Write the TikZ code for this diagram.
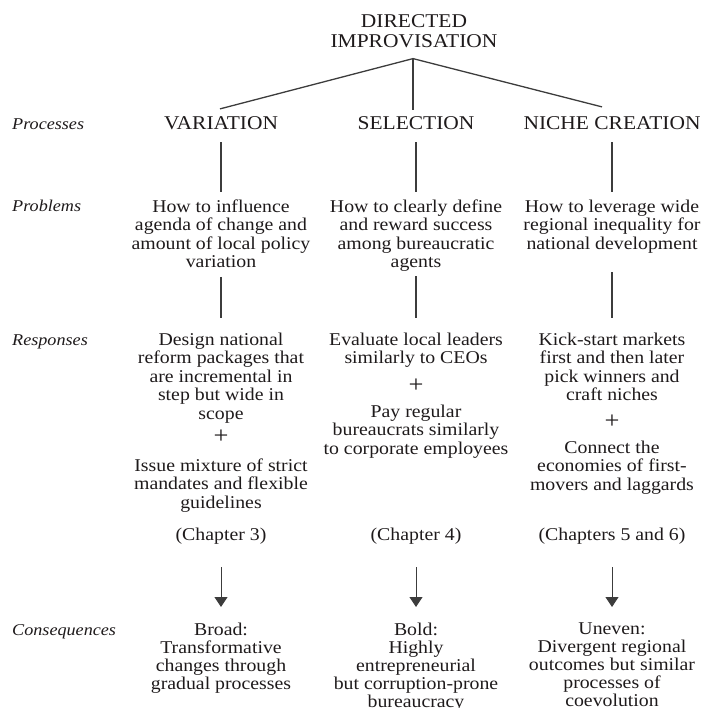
\documentclass[tikz,border=0pt]{standalone}
\usepackage{fontspec}
\setmainfont[FakeStretch=1.1]{Liberation Serif}
\usetikzlibrary{arrows.meta}
\definecolor{ink}{HTML}{1E1A1B}
\definecolor{rulegrey}{HTML}{3C3C3C}
\tikzset{
	body/.style={anchor=north, align=center, inner sep=0pt, text=ink, font=\fontsize{18}{18.5}\selectfont},
	heading/.style={anchor=base, inner sep=0pt, text=ink, font=\fontsize{19.5}{20}\selectfont},
	rowlabel/.style={anchor=base west, inner sep=0pt, text=ink, font=\fontsize{16.5}{18}\selectfont\itshape},
	andsign/.style={inner sep=0pt, text=ink, font=\fontsize{24}{24}\selectfont},
	link/.style={draw=rulegrey, line width=1.3pt},
	down/.style={draw=rulegrey, line width=1pt, -{Triangle[width=13pt,length=10pt]}},
}
\begin{document}
\begin{tikzpicture}[x=1pt, y=-1pt]
	\useasboundingbox (0,0) rectangle (705,708);

	\node[heading, anchor=north, align=center] (title) at (414,14) {DIRECTED\\IMPROVISATION};

	\node[rowlabel] (lproc) at (12,130) {Processes};
	\node[rowlabel] (lprob) at (12,212) {Problems};
	\node[rowlabel] (lresp) at (12,345) {Responses};
	\node[rowlabel] (lcons) at (12,635) {Consequences};

	\node[heading] (varproc) at (221,130) {VARIATION};
	\node[heading] (selproc) at (416,130) {SELECTION};
	\node[heading] (nicheproc) at (612,130) {NICHE CREATION};

	\node[body] (varprob) at (221,199.5) {How to influence\\agenda of change and\\amount of local policy\\variation};
	\node[body] (selprob) at (416,199.5) {How to clearly define\\and reward success\\among bureaucratic\\agents};
	\node[body] (nicheprob) at (612,199.5) {How to leverage wide\\regional inequality for\\national development};

	\node[body] (varresp) at (221,332.5) {Design national\\reform packages that\\are incremental in\\step but wide in\\scope};
	\node[andsign] (varplus) at (221,437) {+};
	\node[body] (varmore) at (221,458.5) {Issue mixture of strict\\mandates and flexible\\guidelines};

	\node[body] (selresp) at (416,332.5) {Evaluate local leaders\\similarly to CEOs};
	\node[andsign] (selplus) at (416,386) {+};
	\node[body] (selmore) at (416,404.5) {Pay regular\\bureaucrats similarly\\to corporate employees};

	\node[body] (nicheresp) at (612,332.5) {Kick-start markets\\first and then later\\pick winners and\\craft niches};
	\node[andsign] (nicheplus) at (612,422) {+};
	\node[body] (nichemore) at (612,440.5) {Connect the\\economies of first-\\movers and laggards};

	\node[body, anchor=base] (varchap) at (221,540) {(Chapter 3)};
	\node[body, anchor=base] (selchap) at (416,540) {(Chapter 4)};
	\node[body, anchor=base] (nichechap) at (612,540) {(Chapters 5 and 6)};

	\node[body, font=\fontsize{18}{18}\selectfont] (varcons) at (221,622.5) {Broad:\\Transformative\\changes through\\gradual processes};
	\node[body, font=\fontsize{18}{18}\selectfont] (selcons) at (416,622.5) {Bold:\\Highly\\entrepreneurial\\but corruption-prone\\bureaucracy};
	\node[body, font=\fontsize{18}{18}\selectfont] (nichecons) at (612,622.5) {Uneven:\\Divergent regional\\outcomes but similar\\processes of\\coevolution};

	\draw[link] ([xshift=-1pt,yshift=-11pt]title.south) -- ([xshift=-1pt,yshift=8pt]varproc.north);
	\draw[link] ([xshift=-1pt,yshift=-11pt]title.south) -- ([xshift=-3pt,yshift=7pt]selproc.north);
	\draw[link] ([xshift=-1pt,yshift=-11pt]title.south) -- ([xshift=-10pt,yshift=10pt]nicheproc.north);

	\draw[link, shorten <=12pt, shorten >=7.5pt] (varproc.south) -- (varprob.north);
	\draw[link, shorten <=12pt, shorten >=7.5pt] (selproc.south) -- (selprob.north);
	\draw[link, shorten <=12pt, shorten >=7.5pt] (nicheproc.south) -- (nicheprob.north);

	\draw[link, shorten <=8.5pt, shorten >=14.5pt] (varprob.south) -- (varresp.north);
	\draw[link, shorten <=4.5pt, shorten >=14.5pt] (selprob.south) -- (selresp.north);
	\draw[link, shorten <=19pt, shorten >=14.5pt] (nicheprob.south) -- (nicheresp.north);

	\draw[down, shorten <=23pt, shorten >=15.5pt] (varchap.south) -- (varcons.north);
	\draw[down, shorten <=23pt, shorten >=15.5pt] (selchap.south) -- (selcons.north);
	\draw[down, shorten <=23pt, shorten >=15.5pt] (nichechap.south) -- (nichecons.north);
\end{tikzpicture}
\end{document}
